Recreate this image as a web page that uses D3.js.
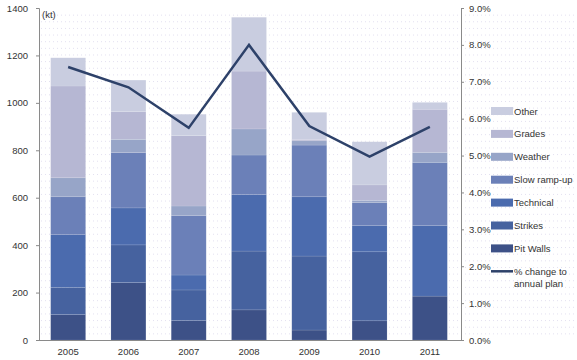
<!DOCTYPE html>
<html>
<head>
<meta charset="utf-8">
<script src="https://cdn.jsdelivr.net/npm/d3@7"></script>
<style>
  html, body { margin: 0; padding: 0; background: #fff; }
  svg { display: block; }
  text { font-family: "Liberation Sans", Arial, sans-serif; fill: #333; }
</style>
</head>
<body>
<svg id="chart" width="577" height="360"></svg>
<script>
// ---- Data ----
const years = ["2005", "2006", "2007", "2008", "2009", "2010", "2011"];
const seriesNames = ["Pit Walls", "Strikes", "Technical", "Slow ramp-up", "Weather", "Grades", "Other"];
const pitWalls   = [107, 242,  82, 127,  42,  81, 185];
const strikes    = [115, 159, 129, 248, 312, 291,   0];
const technical  = [222, 156,  63, 238, 250, 110, 297];
const slowRampUp = [160, 233, 250, 167, 218,  97, 267];
const weather    = [ 80,  56,  41, 110,  18,  10,  42];
const grades     = [387, 117, 297, 244,   6,  65, 182];
const other      = [119, 133,  90, 227, 114, 182,  29];
const pctChange  = [7.4, 6.85, 5.75, 8.0, 5.8, 4.97, 5.78];
const leftTicks  = [0, 200, 400, 600, 800, 1000, 1200, 1400];
const rightTicks = [0, 1, 2, 3, 4, 5, 6, 7, 8, 9];
const lineLabel  = ["% change to", "annual plan"];

const seriesValues = [pitWalls, strikes, technical, slowRampUp, weather, grades, other];
const colors = ["#3d5187", "#46629f", "#4b6bae", "#6b80b8", "#97a5c8", "#b6b7d3", "#c9cde0"];
const lineColor = "#2d4169";

// ---- Layout ----
const svg = d3.select("#chart");
const plot = { left: 39, right: 461, top: 8, bottom: 340 };

const x = d3.scaleBand().domain(years)
  .range([plot.left - 1, plot.right - 1])
  .paddingInner(0.42).paddingOuter(0.21);
const y = d3.scaleLinear().domain([0, 1400]).range([plot.bottom, plot.top]);
const y2 = d3.scaleLinear().domain([0, 9]).range([plot.bottom, plot.top]);

// background dotted texture
const texRows = d3.range(1, 50).map(k => k * 28);
svg.append("g").selectAll("line").data(texRows).join("line")
  .attr("x1", plot.left + 2).attr("x2", 577)
  .attr("y1", d => y(d) + 0.5).attr("y2", d => y(d) + 0.5)
  .attr("stroke", "#e3e0f0").attr("stroke-width", 1)
  .attr("stroke-dasharray", "1,3");

// stacked data
const table = years.map((yr, i) => {
  const o = { year: yr };
  seriesNames.forEach((s, j) => o[s] = seriesValues[j][i]);
  return o;
});
const stacked = d3.stack().keys(seriesNames)(table);

svg.append("g").selectAll("g").data(stacked).join("g")
  .attr("fill", (d, i) => colors[i])
  .selectAll("rect").data(d => d).join("rect")
  .attr("x", d => x(d.data.year))
  .attr("width", x.bandwidth())
  .attr("y", d => y(d[1]))
  .attr("height", d => Math.max(0, y(d[0]) - y(d[1])))
  .attr("stroke", "rgba(255,255,255,0.18)")
  .attr("stroke-width", 0.6);

// axes
const axisColor = "#8a8a8a";
const leftAxis = d3.axisLeft(y).tickValues(leftTicks).tickSize(3).tickPadding(8).tickFormat(d3.format("d"));
const gL = svg.append("g").attr("transform", `translate(${plot.left},0)`).call(leftAxis);
const rightAxis = d3.axisRight(y2).tickValues(rightTicks).tickSize(3).tickPadding(5).tickFormat(d => d.toFixed(1) + "%");
const gR = svg.append("g").attr("transform", `translate(${plot.right},0)`).call(rightAxis);
const bottomAxis = d3.axisBottom(x).tickSize(0).tickPadding(8);
const gB = svg.append("g").attr("transform", `translate(0,${plot.bottom})`).call(bottomAxis);
gB.select(".domain").attr("d", `M${plot.left},0.5H${plot.right}`);

[gL, gR, gB].forEach(g => {
  g.select(".domain").attr("stroke", axisColor);
  g.selectAll(".tick line").attr("stroke", axisColor);
  g.selectAll("text").attr("font-size", "9.5px").attr("fill", "#333")
    .attr("font-family", "'Liberation Sans', Arial, sans-serif");
});
gB.selectAll("text").attr("fill", "#222");

svg.append("text").attr("x", plot.left + 3).attr("y", 18)
  .attr("font-size", "9.5px").text("(kt)");

// line
const line = d3.line()
  .x((d, i) => x(years[i]) + x.bandwidth() / 2)
  .y(d => y2(d));
svg.append("path").datum(pctChange)
  .attr("d", line).attr("fill", "none")
  .attr("stroke", lineColor).attr("stroke-width", 2.5)
  .attr("stroke-linejoin", "miter");

// legend
const legendNames = seriesNames.slice().reverse();
const legend = svg.append("g").attr("transform", "translate(491,111)");
const rowH = 22.9;
legendNames.forEach((name, i) => {
  const ci = seriesNames.indexOf(name);
  const g = legend.append("g").attr("transform", `translate(0,${i * rowH})`);
  g.append("rect").attr("x", 0).attr("y", -4).attr("width", 22).attr("height", 8)
    .attr("fill", colors[ci]);
  g.append("text").attr("x", 23).attr("y", 3.5).attr("font-size", "9.5px").text(name);
});
const lg = legend.append("g").attr("transform", `translate(0,${legendNames.length * rowH})`);
lg.append("line").attr("x1", 0).attr("x2", 22).attr("y1", 0).attr("y2", 0)
  .attr("stroke", lineColor).attr("stroke-width", 2.5);
lg.selectAll("text").data(lineLabel).join("text")
  .attr("x", 23).attr("y", (d, i) => 3.5 + i * 12.5)
  .attr("font-size", "9.5px").text(d => d);
</script>
</body>
</html>
